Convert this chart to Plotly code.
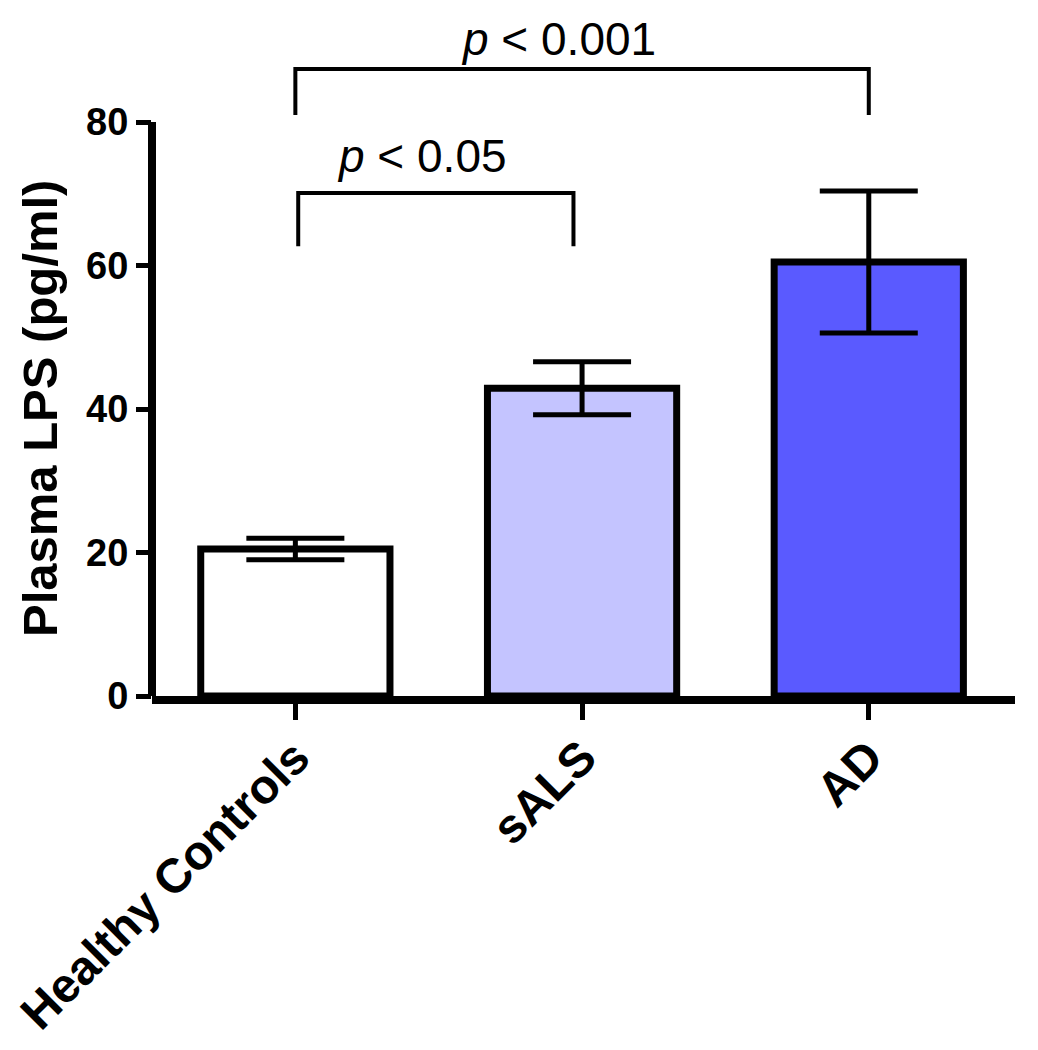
import plotly.graph_objects as go

# ---- data ----
categories = ["Healthy Controls", "sALS", "AD"]
means = [20.5, 42.9, 60.5]
sem = [1.5, 3.7, 9.9]
bar_colors = ["#FFFFFF", "#C4C4FF", "#5A5AFF"]
y_ticks = [0, 20, 40, 60, 80]
y_title = "Plasma LPS (pg/ml)"

# significance brackets: (left index, right index, top, foot, label)
br_left = [0.01, 0.0]
br_right = [0.97, 2.0]
br_top = [70.1, 87.4]
br_foot = [62.7, 81.0]
br_labels = ["<i>p</i> &lt; 0.05", "<i>p</i> &lt; 0.001"]
br_label_x = [0.44, 0.918]
br_label_gap = [9, 2]

FONT = "Liberation Sans"

fig = go.Figure()
xs = list(range(len(categories)))
fig.add_trace(go.Bar(
    x=xs, y=means, width=0.66,
    marker=dict(color=bar_colors, line=dict(color="black", width=7)),
    error_y=dict(type="data", array=sem, visible=True, color="black",
                 thickness=5, width=49),
    showlegend=False,
))

for i in range(len(br_top)):
    fig.add_trace(go.Scatter(
        x=[br_left[i], br_left[i], br_right[i], br_right[i]],
        y=[br_foot[i], br_top[i], br_top[i], br_foot[i]],
        mode="lines", line=dict(color="black", width=4),
        showlegend=False, hoverinfo="skip",
    ))

annotations = []
for i in range(len(br_top)):
    annotations.append(dict(
        x=br_label_x[i], y=br_top[i], xref="x", yref="y",
        text=br_labels[i], showarrow=False, yanchor="bottom", xanchor="center",
        yshift=br_label_gap[i], font=dict(family=FONT, size=46, color="black"),
    ))

annotations.append(dict(
    x=0, y=40, xref="paper", yref="y", text=y_title, textangle=-90,
    showarrow=False, xanchor="center", yanchor="middle", xshift=-112,
    font=dict(family=FONT, size=49, color="black", weight="bold"),
))

fig.add_shape(type="line", xref="paper", yref="y", x0=0, x1=0, y0=0, y1=max(y_ticks),
              line=dict(color="black", width=8), layer="above")

fig.update_layout(
    width=1038, height=1050, autosize=False,
    margin=dict(l=152, r=23, t=36, b=354, autoexpand=False),
    plot_bgcolor="white", paper_bgcolor="white",
    annotations=annotations,
    xaxis=dict(
        range=[-0.5, 2.51], tickvals=xs, ticktext=categories, tickangle=-45,
        showline=True, linewidth=8, linecolor="black", showgrid=False, zeroline=False,
        ticks="outside", ticklen=16, tickwidth=5, tickcolor="black",
        ticklabelstandoff=-10,
        tickfont=dict(family=FONT, size=48, color="black", weight="bold"),
    ),
    yaxis=dict(
        range=[0, 92], tickvals=y_ticks, showline=False, showgrid=False, zeroline=False,
        ticks="outside", ticklen=15, tickwidth=5, tickcolor="black",
        tickfont=dict(family=FONT, size=38, color="black", weight="bold"),
    ),
)

fig.write_html("out.html", config={"displayModeBar": False},
               post_script="document.body.style.margin='0';")
